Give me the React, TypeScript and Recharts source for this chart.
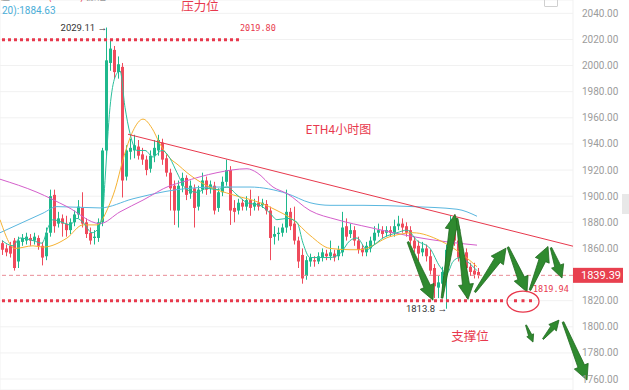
import {
  ComposedChart,
  Bar,
  Line,
  XAxis,
  YAxis,
  CartesianGrid,
  ReferenceLine,
  ReferenceDot
} from 'recharts'

// ETH 4h candles
const opens = [
  1864, 1860, 1862, 1866, 1850, 1865, 1866, 1868, 1866, 1868,
  1862, 1854, 1872, 1901, 1879, 1883, 1879, 1874, 1880, 1886,
  1891, 1880, 1872, 1868, 1868, 1880, 1935, 2002, 2012, 1995,
  1999, 1915, 1934, 1935, 1938, 1932, 1928, 1921, 1931, 1935,
  1941, 1929, 1918, 1908, 1889, 1908, 1914, 1902, 1906, 1892,
  1905, 1912, 1906, 1908, 1891, 1903, 1911, 1920, 1891, 1889,
  1895, 1892, 1897, 1892, 1895, 1893, 1894, 1889, 1869, 1871,
  1872, 1876, 1888, 1879, 1866, 1855, 1839, 1850, 1851, 1850,
  1853, 1856, 1854, 1856, 1854, 1857, 1877, 1871, 1874, 1866,
  1860, 1857, 1860, 1866, 1872, 1874, 1872, 1874, 1872, 1877,
  1879, 1877, 1874, 1866, 1862, 1857, 1860, 1854, 1845, 1830,
  1833, 1840, 1859, 1880, 1866, 1853, 1857, 1846, 1843, 1842
]
const closes = [
  1859, 1857, 1856, 1845, 1866, 1868, 1869, 1866, 1869, 1862,
  1853, 1872, 1900, 1877, 1883, 1879, 1874, 1880, 1886, 1892,
  1879, 1871, 1866, 1869, 1880, 1935, 2004, 2013, 1995, 2001,
  1912, 1935, 1937, 1939, 1931, 1928, 1920, 1931, 1937, 1943,
  1928, 1918, 1906, 1889, 1908, 1914, 1901, 1908, 1891, 1905,
  1912, 1905, 1909, 1889, 1903, 1911, 1920, 1889, 1888, 1895,
  1892, 1897, 1891, 1895, 1892, 1895, 1889, 1868, 1871, 1872,
  1876, 1888, 1877, 1866, 1850, 1837, 1851, 1853, 1850, 1854,
  1857, 1854, 1857, 1853, 1859, 1876, 1869, 1874, 1866, 1859,
  1857, 1862, 1866, 1872, 1874, 1871, 1874, 1872, 1877, 1879,
  1876, 1872, 1866, 1860, 1856, 1860, 1854, 1843, 1831, 1834,
  1842, 1859, 1880, 1866, 1853, 1857, 1845, 1842, 1840, 1839.39
]
const highs = [
  1866, 1863, 1865, 1868, 1869, 1871, 1872, 1871, 1872, 1870,
  1865, 1876, 1905, 1905, 1888, 1886, 1885, 1883, 1889, 1897,
  1903, 1883, 1876, 1874, 1883, 1937, 2029.11, 2019, 2015, 2007,
  2002, 1939, 1944, 1947, 1943, 1937, 1931, 1935, 1943, 1947,
  1944, 1932, 1921, 1912, 1912, 1918, 1916, 1912, 1909, 1908,
  1918, 1915, 1912, 1911, 1906, 1915, 1928, 1923, 1897, 1898,
  1898, 1900, 1905, 1898, 1900, 1898, 1897, 1892, 1877, 1876,
  1879, 1905, 1891, 1892, 1869, 1860, 1854, 1856, 1854, 1857,
  1860, 1859, 1866, 1859, 1862, 1888, 1883, 1879, 1877, 1869,
  1863, 1865, 1869, 1877, 1879, 1877, 1877, 1877, 1882, 1885,
  1883, 1880, 1877, 1869, 1866, 1865, 1863, 1859, 1848, 1839,
  1846, 1863, 1885, 1886, 1872, 1862, 1860, 1849, 1849, 1845
]
const lows = [
  1855, 1854, 1853, 1843, 1845, 1862, 1863, 1862, 1863, 1859,
  1847, 1851, 1869, 1872, 1876, 1869, 1869, 1871, 1877, 1883,
  1876, 1868, 1863, 1863, 1865, 1877, 1931, 1996, 1990, 1990,
  1899, 1912, 1928, 1929, 1928, 1924, 1916, 1918, 1926, 1931,
  1924, 1915, 1889, 1878, 1876, 1903, 1897, 1898, 1876, 1889,
  1902, 1901, 1902, 1886, 1888, 1900, 1908, 1878, 1880, 1886,
  1889, 1889, 1885, 1889, 1889, 1891, 1886, 1851, 1863, 1866,
  1869, 1872, 1874, 1863, 1845, 1833, 1836, 1846, 1846, 1848,
  1850, 1851, 1851, 1850, 1851, 1854, 1866, 1868, 1862, 1856,
  1854, 1854, 1857, 1863, 1869, 1868, 1869, 1869, 1869, 1874,
  1872, 1869, 1863, 1857, 1850, 1854, 1850, 1840, 1822, 1822,
  1824, 1813.8, 1854, 1862, 1850, 1846, 1822, 1839, 1837, 1837
]

// moving averages: [candle position, price]
const maFast: [number, number][] = [
  [0.5, 1866], [3.25, 1862], [5, 1868], [8.25, 1866], [10.5, 1864], [12, 1876],
  [13.25, 1882], [15.5, 1880], [17.5, 1878], [19.25, 1883], [20.75, 1880], [23, 1872],
  [24.25, 1874], [25.75, 1889], [26.25, 1912], [27.5, 1968], [28.75, 1991], [30, 1996],
  [31.25, 1968], [32.5, 1948], [34.25, 1935], [36.25, 1935], [38.25, 1930], [40.5, 1935],
  [42.5, 1929], [44.25, 1918], [46.75, 1905], [49.25, 1903], [51.75, 1906], [54.25, 1905],
  [56.75, 1907], [59.25, 1901], [61.75, 1895], [65, 1893], [67.5, 1887], [69.25, 1882],
  [71.75, 1883], [74.25, 1880], [75.75, 1864], [77.5, 1853], [80, 1853], [82.5, 1853],
  [85, 1856], [87.5, 1866], [89.25, 1868], [91.75, 1859], [93.25, 1862], [95.75, 1868],
  [99.25, 1872], [101.75, 1874], [104.25, 1866], [107.5, 1860], [110, 1846], [111.75, 1841],
  [113.25, 1850], [115, 1853], [116.75, 1850], [119.25, 1843]
]
const maMid: [number, number][] = [
  [0, 1882], [3.75, 1860], [8.25, 1862], [10.75, 1861], [16.75, 1868], [20.75, 1878],
  [24.25, 1878], [27, 1891], [28.75, 1905], [30.75, 1928], [33.25, 1950], [35.75, 1959],
  [38, 1952], [40, 1940], [42.5, 1929], [44.5, 1924], [46.75, 1918], [51.75, 1908],
  [58.25, 1901], [65, 1895], [69.25, 1889], [73.25, 1882], [77.5, 1870], [82.5, 1860],
  [87.5, 1859], [90, 1859], [97.5, 1869], [103.25, 1872], [110, 1866], [115.75, 1855],
  [119.25, 1846]
]
const maSlow: [number, number][] = [
  [0, 1913], [9.25, 1903], [16.75, 1892], [25, 1879], [30, 1888], [35.75, 1897],
  [42.5, 1908], [45.75, 1911], [54.25, 1918], [61.75, 1921], [64.25, 1918], [68.25, 1907],
  [71.75, 1902], [77.5, 1889], [84.25, 1882], [92.5, 1876], [103.25, 1869], [111.75, 1865],
  [119.25, 1862.5]
]
const maLong: [number, number][] = [
  [0, 1872], [10.75, 1887], [14.25, 1892], [25, 1891], [33.25, 1898], [44.25, 1905],
  [54.25, 1907], [62.5, 1907], [71.75, 1902], [77.5, 1895], [82.5, 1893], [90.75, 1893],
  [103.25, 1892], [114.25, 1890], [119.25, 1884.63]
]

// 1840 is covered by the last-price tag
const yTicks = [1760, 1780, 1800, 1820, 1860, 1880, 1900, 1920, 1940, 1960, 1980, 2000, 2020, 2040]
const gridTicks = [7.25, 25.75, 44.25, 62.75, 81.25, 99.75, 118.25, 136.75]

const lastPrice = 1839.39
const resistance = 2019.8
const support = 1819.94
const trendStart: [number, number] = [32, 1947.4]
const trendEnd: [number, number] = [143.25, 1861.7]

// hand-drawn arrows: [fromX, fromPrice, toX, toPrice]
const arrows: [number, number, number, number][] = [
  [102, 1865, 108.25, 1820.4],
  [110.5, 1822, 113.75, 1886],
  [114.25, 1883, 117, 1821],
  [118.75, 1826.6, 126.5, 1860.2],
  [127, 1861, 131.75, 1826.6],
  [132.5, 1828.1, 137, 1861.5],
  [137.75, 1860.5, 140.5, 1837.3],
  [131.5, 1801.3, 133.25, 1788.3],
  [135.75, 1790.6, 139.75, 1805.1],
  [140.75, 1803.6, 146.75, 1759.2]
]

const GREEN = '#1fb88c'
const RED = '#ef4b5c'
const NOTE_RED = '#e8394d'
const CJK = "'Noto Sans CJK SC', sans-serif"

const candles = opens.map((o, i) => ({ x: i + 0.5, o, c: closes[i], h: highs[i], l: lows[i] }))
const toPts = (arr: [number, number][]) => arr.map(([x, v]) => ({ x, v }))

function Candle(props: any) {
  const { x, y, width, height, payload } = props
  if (height == null || payload == null) return null
  const { o, c, h, l } = payload
  const k = height / (h - l || 1)
  const top = y + (h - Math.max(o, c)) * k
  const bot = y + (h - Math.min(o, c)) * k
  const cx = Math.round(x + width / 2) + 0.5
  const color = c >= o ? GREEN : RED
  return (
    <g>
      <line x1={cx} x2={cx} y1={y} y2={y + height} stroke={color} strokeWidth={1} />
      <rect x={cx - 1.5} y={top} width={3} height={Math.max(1, bot - top)} fill={color} />
    </g>
  )
}

function Arrow(props: any) {
  const { x1, y1, x2, y2 } = props
  const dx = x2 - x1
  const dy = y2 - y1
  const len = Math.hypot(dx, dy) || 1
  const ux = dx / len
  const uy = dy / len
  const nx = -uy
  const ny = ux
  const head = Math.min(15, len * 0.4)
  const headW = head * 1.0
  const shaft = headW * 0.47
  const tail = Math.max(1, shaft * 0.25)
  const bx = x2 - ux * head
  const by = y2 - uy * head
  const pts = [
    [x1 + (nx * tail) / 2, y1 + (ny * tail) / 2],
    [bx + (nx * shaft) / 2, by + (ny * shaft) / 2],
    [bx + (nx * headW) / 2, by + (ny * headW) / 2],
    [x2, y2],
    [bx - (nx * headW) / 2, by - (ny * headW) / 2],
    [bx - (nx * shaft) / 2, by - (ny * shaft) / 2],
    [x1 - (nx * tail) / 2, y1 - (ny * tail) / 2]
  ]
  return (
    <polygon
      points={pts.map((p) => p.join(',')).join(' ')}
      fill="#2f8a2f"
      stroke="#21691f"
      strokeWidth={0.8}
      strokeLinejoin="round"
    />
  )
}

const textAt =
  (text: string, opts: { size: number; color: string; anchor?: string; font?: string; dx?: number }) =>
  (p: any) => (
    <text
      x={p.cx + (opts.dx || 0)}
      y={p.cy}
      fontSize={opts.size}
      fill={opts.color}
      textAnchor={opts.anchor || 'middle'}
      dominantBaseline="central"
      fontFamily={opts.font || 'Roboto, sans-serif'}
    >
      {text}
    </text>
  )

export default function App() {
  return (
    <div
      style={{
        position: 'fixed',
        left: 0,
        top: 0,
        width: 629,
        height: 390,
        background: '#fff',
        overflow: 'hidden'
      }}
    >
      <ComposedChart width={629} height={390} data={candles} margin={{ top: 0, right: 0, left: 0, bottom: 0 }}>
        <CartesianGrid stroke="#f1f1f1" />
        <XAxis
          dataKey="x"
          type="number"
          domain={[0, 143.25]}
          ticks={gridTicks}
          allowDataOverflow
          height={0}
          tick={false}
          tickLine={false}
          axisLine={false}
        />
        <YAxis
          orientation="right"
          width={56}
          domain={[1751.6, 2050.2]}
          ticks={yTicks}
          allowDataOverflow
          tickFormatter={(v: number) => v.toFixed(2)}
          axisLine={false}
          tickLine={false}
          tickSize={0}
          tickMargin={9}
          tick={{ fontSize: 10, fill: '#9c9c9c', fontFamily: 'Roboto, sans-serif' }}
        />
        <Bar
          dataKey={(d: any) => [d.l, d.h]}
          barSize={3}
          shape={Candle}
          isAnimationActive={false}
        />
        <Line data={toPts(maLong)} dataKey="v" type="monotone" stroke="#5ab7df" strokeWidth={1} dot={false} isAnimationActive={false} />
        <Line data={toPts(maSlow)} dataKey="v" type="monotone" stroke="#d45fcb" strokeWidth={1} dot={false} isAnimationActive={false} />
        <Line data={toPts(maMid)} dataKey="v" type="monotone" stroke="#f6b232" strokeWidth={1} dot={false} isAnimationActive={false} />
        <Line data={toPts(maFast)} dataKey="v" type="monotone" stroke="#2bbf9c" strokeWidth={1} dot={false} isAnimationActive={false} />

        <ReferenceLine y={lastPrice} stroke="#e98c97" strokeDasharray="4 3" strokeWidth={1} ifOverflow="visible" />
        <ReferenceLine
          segment={[{ x: 0.5, y: resistance }, { x: 60, y: resistance }]}
          stroke={NOTE_RED}
          strokeWidth={3}
          strokeDasharray="3 3"
          ifOverflow="visible"
        />
        <ReferenceLine
          segment={[{ x: 0.5, y: support }, { x: 126, y: support }]}
          stroke={NOTE_RED}
          strokeWidth={3}
          strokeDasharray="3 3"
          ifOverflow="visible"
        />
        <ReferenceLine
          segment={[{ x: 128.5, y: support }, { x: 134, y: support }]}
          stroke={NOTE_RED}
          strokeWidth={3}
          strokeDasharray="3 4.5"
          ifOverflow="visible"
        />
        <ReferenceLine
          segment={[{ x: trendStart[0], y: trendStart[1] }, { x: trendEnd[0], y: trendEnd[1] }]}
          stroke={NOTE_RED}
          strokeWidth={1}
          ifOverflow="visible"
        />
        <ReferenceDot
          x={130.75}
          y={1819.3}
          r={0}
          ifOverflow="visible"
          shape={(p: any) => (
            <ellipse cx={p.cx} cy={p.cy} rx={16} ry={10.5} fill="none" stroke={NOTE_RED} strokeWidth={1.3} />
          )}
        />
        {arrows.map(([fx, fy, tx, ty], i) => (
          <ReferenceLine
            key={i}
            segment={[{ x: fx, y: fy }, { x: tx, y: ty }]}
            ifOverflow="visible"
            shape={Arrow}
          />
        ))}

        <ReferenceDot x={60} y={2028.4} r={0} ifOverflow="visible"
          shape={textAt('2019.80', { size: 8.5, color: NOTE_RED, anchor: 'start', font: "'DejaVu Sans Mono', monospace" })} />
        <ReferenceDot x={133.25} y={1828.8} r={0} ifOverflow="visible"
          shape={textAt(support.toFixed(2), { size: 8.5, color: NOTE_RED, anchor: 'start', font: "'DejaVu Sans Mono', monospace" })} />
        <ReferenceDot x={26.5} y={2029.11} r={0} ifOverflow="visible"
          shape={textAt('2029.11 →', { size: 9.5, color: '#333', anchor: 'end', dx: 1 })} />
        <ReferenceDot x={111.5} y={1813.8} r={0} ifOverflow="visible"
          shape={textAt('1813.8 →', { size: 9.5, color: '#333', anchor: 'end', dx: 1 })} />
        <ReferenceDot x={50} y={2045.8} r={0} ifOverflow="visible"
          shape={textAt('压力位', { size: 12.5, color: NOTE_RED, font: CJK })} />
        <ReferenceDot x={84.6} y={1952} r={0} ifOverflow="visible"
          shape={textAt('ETH4小时图', { size: 12, color: NOTE_RED, font: CJK })} />
        <ReferenceDot x={117.5} y={1793} r={0} ifOverflow="visible"
          shape={textAt('支撑位', { size: 12.5, color: NOTE_RED, font: CJK })} />
        <ReferenceDot
          x={143.25}
          y={lastPrice}
          r={0}
          ifOverflow="visible"
          shape={(p: any) => (
            <g>
              <rect x={p.cx} y={p.cy - 7.5} width={50} height={15} fill="#e8404f" />
              <text x={p.cx + 8} y={p.cy} fontSize={11} fill="#fff" dominantBaseline="central" fontFamily="Roboto, sans-serif">
                {lastPrice.toFixed(2)}
              </text>
            </g>
          )}
        />
      </ComposedChart>

      <div style={{ position: 'absolute', left: 0, top: -12, fontSize: 10, fontFamily: CJK, color: '#999', whiteSpace: 'nowrap' }}>
        值 <span style={{ color: NOTE_RED }}>1850.35(1.91%)</span> 振幅 <span style={{ color: NOTE_RED }}>2.13%</span>
      </div>
      <div style={{ position: 'absolute', left: 2, top: 5, fontSize: 10, fontFamily: 'Roboto, sans-serif', color: '#4aaed8' }}>
        20):1884.63
      </div>
      <div style={{ position: 'absolute', left: 544, top: -3, width: 12, height: 8, border: '1px solid #d0d0d0', borderRadius: 1 }} />
      <div style={{ position: 'absolute', left: 622, top: 194, width: 7, height: 20, background: '#e8e8e8' }} />
    </div>
  )
}
